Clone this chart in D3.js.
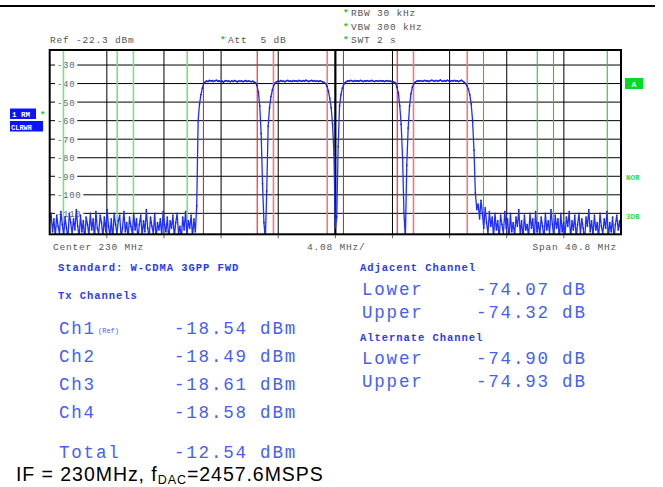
<!DOCTYPE html>
<html><head><meta charset="utf-8">
<script src="https://cdn.jsdelivr.net/npm/d3@7/dist/d3.min.js"></script>
<style>html,body{margin:0;padding:0;background:#fff;}svg{display:block}</style>
</head><body><svg id="c" width="663" height="487"></svg>
<script>
// ---------------- data ----------------
const startMHz = 209.6, spanMHz = 40.8, stepMHz = 0.1, centerMHz = 230;
const refLevel = "Ref -22.3 dBm";
const yTicks = [-30, -40, -50, -60, -70, -80, -90, -100, -110];
const channelCenters = [222.5, 227.5, 232.5, 237.5];
const channelBW = 3.84;
const adjacentCenters = [217.5, 242.5];
const alternateCenters = [212.5, 247.5];

const noiseLeft = [
  -115,-110,-120,-113,-123,-111,-117,-121,-109,-116,
  -122,-112,-118,-124,-110,-115,-121,-113,-119,-108,
  -117,-123,-111,-120,-114,-125,-112,-116,-122,-110,
  -119,-113,-124,-109,-118,-121,-111,-115,-123,-112,
  -120,-108,-117,-122,-113,-125,-110,-116,-121,-114,
  -111,-123,-118,-109,-120,-115,-124,-112,-117,-121,
  -110,-119,-113,-125,-116,-111,-122,-114,-120,-108,
  -118,-123,-112,-117,-121,-110,-124,-115,-119,-113,
  -122,-109,-116,-120,-112,-125,-114,-118,-111,-123,
  -115,-110,-121,-117,-124,-112,-119,-109,-122,-114,
  -118,-111,-123,-113,-120];
const skirtCh1Left = [-106,-60,-51,-46,-42.5,-40];
const topCh1 = [-39.2,-38.6,-38.9,-38.3,-38.7,-38.4,-38.9,-38.5,-38.2,-38.8,
  -38.5,-38.9,-38.6,-39.3,-38.7,-38.4,-38.8,-38.6,-39.0,-38.5,
  -38.9,-38.4,-38.7,-39.1,-38.6,-38.8,-38.5,-39.0,-38.7,-38.4,
  -38.9,-38.6,-38.8,-39.0,-38.7,-39.2,-39.6];
const dip12 = [-41,-44.5,-52,-67,-94,-115,-124,-98,-63,-53,-47,-43.5,-41,-39.6,-39.0];
const topCh2 = [-38.7,-38.9,-38.4,-38.8,-38.6,-39.0,-38.5,-38.3,-38.8,-38.6,
  -38.9,-38.4,-38.7,-38.5,-38.9,-38.3,-38.6,-38.8,-38.4,-38.7,
  -38.2,-38.6,-38.9,-38.5,-38.3,-38.7,-38.4,-38.8,-38.6,-38.9,
  -38.5,-38.8,-39.1,-39.4];
const dip23 = [-40,-41.5,-44,-48,-53,-62,-78,-118,-112,-74,-52,-46,-42.5,-40.5,-39.4];
const topCh3 = [-38.9,-38.5,-38.7,-38.3,-38.6,-38.9,-38.4,-38.7,-38.5,-38.8,
  -38.3,-38.6,-38.9,-38.5,-38.7,-38.4,-38.8,-38.6,-38.3,-38.7,
  -38.9,-38.5,-38.6,-38.8,-38.4,-38.7,-38.5,-38.9,-38.6,-38.4,
  -38.8,-38.6,-38.9,-39.0,-39.3];
const dip34 = [-39.8,-42,-45,-52,-62,-80,-110,-123,-84,-64,-52,-45.5,-42,-40.2];
const topCh4 = [-39.3,-38.8,-38.5,-38.7,-38.4,-38.8,-38.6,-38.3,-38.7,-38.5,
  -38.9,-38.4,-38.2,-38.6,-38.8,-38.3,-38.7,-38.5,-38.1,-38.6,
  -38.8,-38.4,-38.7,-38.2,-38.5,-38.8,-38.4,-38.6,-38.3,-38.7,
  -38.5,-38.9,-38.6,-38.2,-38.8,-39.3];
const skirtCh4Right = [-40,-41.2,-43,-46,-51,-60,-76,-99,-108];
const noiseRight = [
  -105,-113,-103,-110,-118,-107,-115,-121,-109,-117,
  -112,-123,-110,-119,-114,-124,-111,-116,-121,-109,
  -118,-113,-125,-110,-120,-115,-122,-112,-117,-108,
  -121,-114,-124,-111,-119,-116,-123,-110,-118,-113,
  -125,-109,-120,-115,-122,-112,-117,-124,-110,-119,
  -114,-121,-108,-116,-123,-111,-118,-113,-125,-110,
  -120,-115,-122,-112,-117,-109,-124,-114,-119,-111,
  -123,-116,-110,-121,-113,-118,-125,-112,-117,-108,
  -120,-114,-122,-111,-119,-115,-124,-110,-117,-121,
  -113,-118,-109,-123,-115,-120,-112,-124,-116,-111,
  -119,-114,-121];
const traceLevels = [].concat(noiseLeft, skirtCh1Left, topCh1, dip12, topCh2, dip23,
  topCh3, dip34, topCh4, skirtCh4Right, noiseRight);

const headerRight = ["RBW 30 kHz", "VBW 300 kHz", "SWT 2 s"];
const attText = "Att  5 dB";
const footerTexts = ["Center 230 MHz", "4.08 MHz/", "Span 40.8 MHz"];
const standardText = "Standard: W-CDMA 3GPP FWD";
const txHeading = "Tx Channels";
const txNames = ["Ch1", "Ch2", "Ch3", "Ch4"];
const txPowers = ["-18.54 dBm", "-18.49 dBm", "-18.61 dBm", "-18.58 dBm"];
const totalLabel = "Total", totalPower = "-12.54 dBm";
const aclrSides = ["Lower", "Upper"];
const adjacentValues = ["-74.07 dB", "-74.32 dB"];
const alternateValues = ["-74.90 dB", "-74.93 dB"];

// ---------------- drawing ----------------
const svg = d3.select("#c");
const L = 49.7, R = 621, T = 50, B = 234.3;
const x = d3.scaleLinear().domain([startMHz, startMHz + spanMHz]).range([L, R]);
const y = d3.scaleLinear().domain([-21.9, -121.3]).range([T, B]);
const mono = "'Liberation Mono','Courier New',monospace";

// top rule
svg.append("line").attr("x1", 0).attr("x2", 655).attr("y1", 6).attr("y2", 6)
  .attr("stroke", "#000").attr("stroke-width", 2);

// header
const hdr = svg.append("g").attr("font-family", mono).attr("font-size", 9.5)
  .attr("letter-spacing", 0.8).attr("fill", "#555");
hdr.append("text").attr("x", 50).attr("y", 43).text(refLevel);
hdr.append("text").attr("x", 220).attr("y", 43).attr("fill", "#22cc22").attr("font-weight", "bold").text("*");
hdr.append("text").attr("x", 228).attr("y", 43).attr("xml:space", "preserve").text(attText);
headerRight.forEach((t, i) => {
  const yy = 16 + i * 13.5;
  hdr.append("text").attr("x", 343).attr("y", yy).attr("fill", "#22cc22").attr("font-weight", "bold").text("*");
  hdr.append("text").attr("x", 351).attr("y", yy).text(t);
});

// clip
svg.append("clipPath").attr("id", "plot").append("rect")
  .attr("x", L).attr("y", T).attr("width", R - L).attr("height", B - T);

// horizontal grid
const vGridF = d3.range(1, 10).map(k => startMHz + k * spanMHz / 10);
svg.append("g").selectAll("line").data(yTicks).join("line")
  .attr("x1", L).attr("x2", R).attr("y1", d => y(d)).attr("y2", d => y(d))
  .attr("stroke", "#000").attr("stroke-width", 1);
// vertical grid
svg.append("g").selectAll("line").data(vGridF).join("line")
  .attr("x1", d => x(d)).attr("x2", d => x(d)).attr("y1", T).attr("y2", B)
  .attr("stroke", "#000").attr("stroke-width", d => Math.abs(d - centerMHz) < 0.01 ? 2.2 : 1);
// bottom ticks
svg.append("g").selectAll("line").data(vGridF).join("line")
  .attr("x1", d => x(d)).attr("x2", d => x(d)).attr("y1", B).attr("y2", B + 4)
  .attr("stroke", "#666").attr("stroke-width", 1);

// y labels
const yl = svg.append("g");
yTicks.forEach(v => {
  const t = yl.append("text").attr("x", 57).attr("y", y(v) + 3.4)
    .attr("font-family", mono).attr("font-size", 9).attr("letter-spacing", 0.7)
    .attr("fill", "#666").text(v);
  const w = t.node().getComputedTextLength();
  yl.insert("rect", "text").attr("x", 55).attr("y", y(v) - 5).attr("width", w + 4)
    .attr("height", 10).attr("fill", "#fff");
});

// channel limit lines
const edges = [];
alternateCenters.concat(adjacentCenters).forEach((c, i) => {
  edges.push({f: c - channelBW / 2, col: "#33cc33", light: i % 2 === 0});
  edges.push({f: c + channelBW / 2, col: "#33cc33", light: i % 2 === 0});
});
channelCenters.forEach((c, i) => {
  edges.push({f: c - channelBW / 2, col: i % 2 ? "#f07a7a" : "#ff1a1a", light: i % 2 === 1});
  edges.push({f: c + channelBW / 2, col: i % 2 ? "#f07a7a" : "#ff1a1a", light: i % 2 === 1});
});
svg.append("g").selectAll("line").data(edges).join("line")
  .attr("x1", d => x(d.f)).attr("x2", d => x(d.f)).attr("y1", T).attr("y2", B)
  .attr("stroke", d => d.col === "#33cc33" ? (d.light ? "#7ee07e" : "#22cc22") : d.col)
  .attr("stroke-width", d => d.light ? 1.6 : 1.1);

// trace
const traceData = traceLevels.map((v, i) => [startMHz + i * stepMHz, v]);
const g = svg.append("g").attr("clip-path", "url(#plot)");
g.append("path").datum(traceData)
  .attr("d", d3.line().x(d => x(d[0])).y(d => y(d[1])))
  .attr("fill", "none").attr("stroke", "#1f2fff").attr("stroke-width", 1.3);
g.append("g").selectAll("rect").data(traceData).join("rect")
  .attr("x", d => x(d[0]) - 0.7).attr("y", d => y(d[1]) - 0.7)
  .attr("width", 1.4).attr("height", 1.4).attr("fill", "#1a1ad0");

// frame
svg.append("rect").attr("x", L).attr("y", T).attr("width", R - L).attr("height", B - T)
  .attr("fill", "none").attr("stroke", "#000").attr("stroke-width", 2);

// left boxes
svg.append("rect").attr("x", 10).attr("y", 108.5).attr("width", 26).attr("height", 10.5).attr("fill", "#0a14ff");
svg.append("text").attr("x", 12).attr("y", 117).attr("font-family", mono).attr("font-size", 7.5)
  .attr("font-weight", "bold").attr("fill", "#fff").attr("xml:space", "preserve").text("1 RM");
svg.append("text").attr("x", 40).attr("y", 118).attr("font-family", mono).attr("font-size", 9)
  .attr("font-weight", "bold").attr("fill", "#22cc22").text("*");
svg.append("rect").attr("x", 10).attr("y", 121).attr("width", 33).attr("height", 10.5).attr("fill", "#0a14ff");
svg.append("text").attr("x", 11).attr("y", 129.5).attr("font-family", mono).attr("font-size", 7)
  .attr("font-weight", "bold").attr("fill", "#fff").text("CLRWR");

// right annotations
svg.append("rect").attr("x", 625).attr("y", 78).attr("width", 18).attr("height", 11).attr("fill", "#00dd22");
svg.append("text").attr("x", 634).attr("y", 86.5).attr("text-anchor", "middle").attr("font-family", mono)
  .attr("font-size", 8).attr("font-weight", "bold").attr("fill", "#fff").text("A");
svg.append("text").attr("x", 626).attr("y", 180).attr("font-family", mono).attr("font-size", 7.5)
  .attr("font-weight", "bold").attr("fill", "#33dd33").text("NOR");
svg.append("text").attr("x", 626).attr("y", 218.5).attr("font-family", mono).attr("font-size", 7.5)
  .attr("font-weight", "bold").attr("fill", "#33dd33").text("3DB");

// footer of plot
const ft = svg.append("g").attr("font-family", mono).attr("font-size", 9.5)
  .attr("letter-spacing", 0.8).attr("fill", "#555");
ft.append("text").attr("x", 53).attr("y", 249.5).text(footerTexts[0]);
ft.append("text").attr("x", 307).attr("y", 249.5).text(footerTexts[1]);
ft.append("text").attr("x", 617).attr("y", 249.5).attr("text-anchor", "end").text(footerTexts[2]);

// results panel
const blue = "#4660f4";
const head = svg.append("g").attr("font-family", mono).attr("font-size", 10.5)
  .attr("font-weight", "bold").attr("letter-spacing", 0.95).attr("fill", "#2a3cf0");
head.append("text").attr("x", 58).attr("y", 270.5).text(standardText);
head.append("text").attr("x", 58).attr("y", 298.5).text(txHeading);
head.append("text").attr("x", 360).attr("y", 270.5).text("Adjacent Channel");
head.append("text").attr("x", 360).attr("y", 340.5).text("Alternate Channel");

const big = svg.append("g").attr("font-family", mono).attr("font-size", 17.5)
  .attr("letter-spacing", 1.8).attr("fill", blue);
const rowY = [328, 356, 384, 412];
txNames.forEach((n, i) => {
  big.append("text").attr("x", 59).attr("y", rowY[i] + 6).text(n);
  big.append("text").attr("x", 174).attr("y", rowY[i] + 6).attr("xml:space", "preserve").text(txPowers[i]);
});
svg.append("text").attr("x", 98).attr("y", rowY[0] + 5).attr("font-family", mono).attr("font-size", 7)
  .attr("fill", blue).text("(Ref)");
big.append("text").attr("x", 59).attr("y", 452 + 6).text(totalLabel);
big.append("text").attr("x", 174).attr("y", 452 + 6).text(totalPower);

const adjY = [289.3, 311.7], altY = [358.3, 380.7];
aclrSides.forEach((s, i) => {
  big.append("text").attr("x", 362).attr("y", adjY[i] + 6).text(s);
  big.append("text").attr("x", 476).attr("y", adjY[i] + 6).text(adjacentValues[i]);
  big.append("text").attr("x", 362).attr("y", altY[i] + 6).text(s);
  big.append("text").attr("x", 476).attr("y", altY[i] + 6).text(alternateValues[i]);
});

// caption
const cap = svg.append("text").attr("x", 16).attr("y", 481)
  .attr("font-family", "'Liberation Sans',Arial,sans-serif").attr("font-size", 19.5)
  .attr("letter-spacing", 0.95).attr("fill", "#000");
cap.append("tspan").text("IF = 230MHz, f");
cap.append("tspan").attr("font-size", 12.5).attr("dy", 3).text("DAC");
cap.append("tspan").attr("dy", -3).text("=2457.6MSPS");
</script></body></html>
